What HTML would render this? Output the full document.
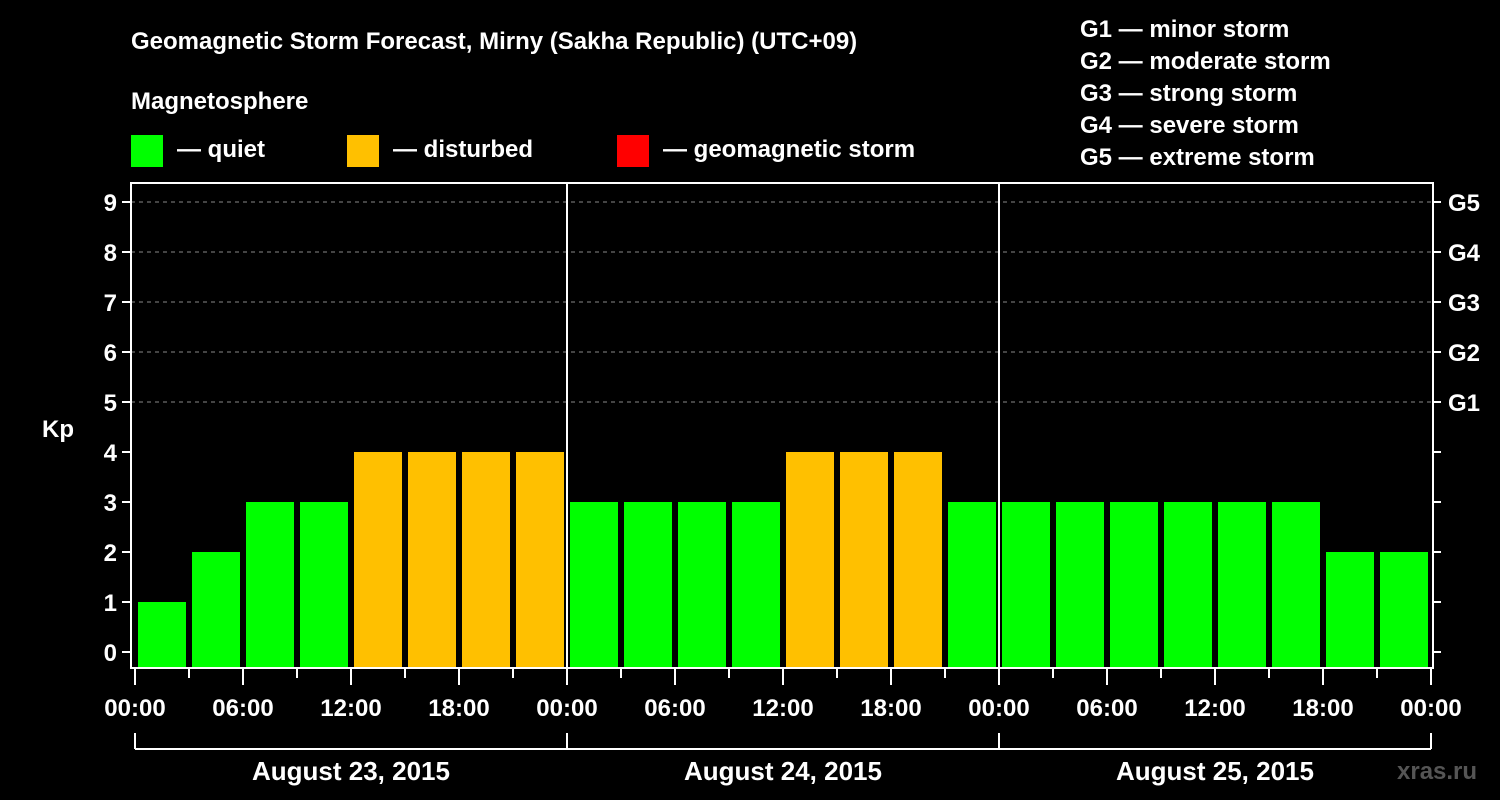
<!DOCTYPE html>
<html><head><meta charset="utf-8"><style>
body{margin:0;background:#000;}
svg{display:block;font-family:"Liberation Sans",Arial,sans-serif;font-weight:bold;}
</style></head><body>
<svg id="c" width="1500" height="800" viewBox="0 0 1500 800">
<rect width="1500" height="800" fill="#000"/>
<text x="131" y="49" fill="#fff" font-size="24">Geomagnetic Storm Forecast, Mirny (Sakha Republic) (UTC+09)</text>
<text x="131" y="109" fill="#fff" font-size="24">Magnetosphere</text>
<g><rect x="131" y="135" width="32" height="32" fill="#00ff00"/><text x="177" y="157" fill="#fff" font-size="24">— quiet</text></g>
<g><rect x="347" y="135" width="32" height="32" fill="#ffc000"/><text x="393" y="157" fill="#fff" font-size="24">— disturbed</text></g>
<g><rect x="617" y="135" width="32" height="32" fill="#ff0000"/><text x="663" y="157" fill="#fff" font-size="24">— geomagnetic storm</text></g>
<g fill="#fff" font-size="24">
<text x="1080" y="37">G1 — minor storm</text><text x="1080" y="69">G2 — moderate storm</text><text x="1080" y="101">G3 — strong storm</text><text x="1080" y="133">G4 — severe storm</text><text x="1080" y="165">G5 — extreme storm</text></g>
<text x="42" y="437" fill="#fff" font-size="24">Kp</text>
<text x="1397" y="779" fill="#555" font-size="24">xras.ru</text>
<g id="plot"></g>
</svg>
<script>
const kpValues=[1,2,3,3,4,4,4,4,3,3,3,3,4,4,4,3,3,3,3,3,3,3,2,2];
const yTicks=[0,1,2,3,4,5,6,7,8,9];
const gLabels=["G1","G2","G3","G4","G5"];
const timeLabels=["00:00","06:00","12:00","18:00"];
const dayLabels=["August 23, 2015","August 24, 2015","August 25, 2015"];
const NS="http://www.w3.org/2000/svg";
const g=document.getElementById('plot');
const X0=135,HPX=18,Y0=652,KPX=50,L=131,R=1433,T=183,B=668;
const xs=h=>X0+h*HPX, ys=k=>Y0-k*KPX;
function mk(t,a,p){const e=document.createElementNS(NS,t);for(const k in a)e.setAttribute(k,a[k]);(p||g).appendChild(e);return e;}
function color(v){return v>=5?"#ff0000":v>=4?"#ffc000":"#00ff00";}
yTicks.forEach(k=>{
 if(k>=5){const l=mk('line',{x1:L,x2:R,y1:ys(k),y2:ys(k),stroke:'#888','stroke-dasharray':'4,4','stroke-width':1});
 
 }
 mk('line',{x1:L-9,x2:L,y1:ys(k),y2:ys(k),stroke:'#fff','stroke-width':2});
 mk('line',{x1:R,x2:R+8,y1:ys(k),y2:ys(k),stroke:'#fff','stroke-width':2});
 const t=mk('text',{x:L-14,y:ys(k)+9,fill:'#fff','font-size':24,'text-anchor':'end'});t.textContent=k;
 
 
});
gLabels.forEach((s,i)=>{const t=mk('text',{x:1448,y:ys(5+i)+9,fill:'#fff','font-size':24});t.textContent=s;
 
 });
kpValues.forEach((v,i)=>{
 const r=mk('rect',{x:xs(i*3)+3,width:48,y:ys(v),height:B-ys(v),fill:color(v)});
 
 
});
mk('rect',{x:L,y:T,width:R-L,height:B-T,fill:'none',stroke:'#fff','stroke-width':2});
for(let d=1;d<dayLabels.length;d++)mk('line',{x1:xs(d*24),x2:xs(d*24),y1:T,y2:B,stroke:'#fff','stroke-width':2});
for(let h=0;h<=72;h+=3){const long=h%6===0;mk('line',{x1:xs(h),x2:xs(h),y1:B,y2:long?685:678,stroke:'#fff','stroke-width':2});
 if(long){const t=mk('text',{x:xs(h),y:716,fill:'#fff','font-size':24,'text-anchor':'middle'});t.textContent=timeLabels[(h/6)%4];
 
 }}
mk('line',{x1:xs(0),x2:xs(72),y1:749,y2:749,stroke:'#fff','stroke-width':2});
dayLabels.forEach((s,d)=>{
 mk('line',{x1:xs(d*24),x2:xs(d*24),y1:733,y2:749,stroke:'#fff','stroke-width':2});
 const t=mk('text',{x:xs(d*24+12),y:780,fill:'#fff','font-size':26,'text-anchor':'middle'});t.textContent=s;
 
 
});
mk('line',{x1:xs(72),x2:xs(72),y1:733,y2:749,stroke:'#fff','stroke-width':2});
</script>
</body></html>
